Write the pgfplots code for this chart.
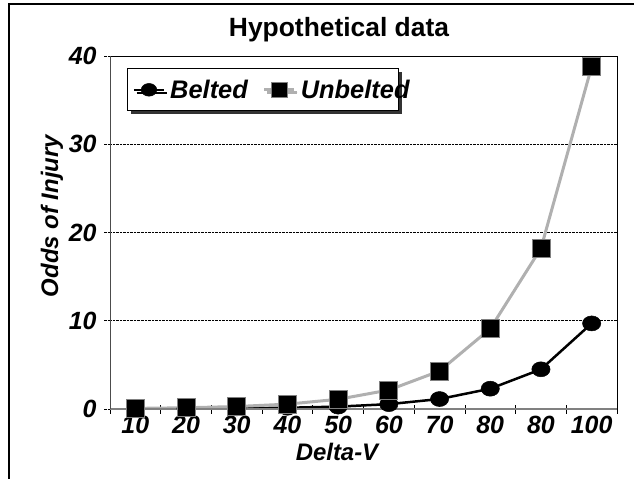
\documentclass[border=0pt]{standalone}
\usepackage{fontspec}
\setmainfont{Liberation Sans}
\usepackage{pgfplots}
\pgfplotsset{compat=1.18}
\usetikzlibrary{shadows}
\definecolor{ubgray}{RGB}{176,176,176}
\newcommand{\tickfont}{\fontsize{25}{27}\selectfont\bfseries\itshape}
\newcommand{\labfont}{\fontsize{24}{26}\selectfont\bfseries\itshape}
\newcommand{\legfont}{\fontsize{25.5}{27}\selectfont\bfseries\itshape}
\begin{document}
\begin{tikzpicture}
\useasboundingbox (0,0) rectangle (634bp,-479bp);
\draw[black, line width=1.3bp] (9bp,-482bp) -- (9bp,-4bp) -- (637bp,-4bp);
\begin{axis}[
  at={(110bp,-409bp)}, anchor=south west,
  scale only axis, width=507bp, height=353bp,
  xmin=-0.5, xmax=9.5, ymin=0, ymax=40,
  xtick={0,...,9}, xticklabels={10,20,30,40,50,60,70,80,80,100},
  minor xtick={-0.5,0.5,...,9.5},
  ytick={0,10,20,30,40},
  tick pos=left,
  ymajorgrids, grid style={densely dotted, black, line width=0.7bp},
  major x tick style={draw=none},
  minor x tick style={draw=black, line width=0.8bp},
  minor tick length=9bp,
  major tick length=6bp,
  xtick align=center, ytick align=outside,
  y tick style={densely dotted, black, line width=0.7bp},
  axis line style={black, line width=0.8bp},
  ticklabel style={font=\tickfont},
  /pgf/number format/assume math mode=true,
  xticklabel style={yshift=-1bp},
  yticklabel style={xshift=-4bp},
  legend style={at={(0.034,0.965)}, anchor=north west, draw=black, line width=1bp,
    fill=white, drop shadow={shadow xshift=3bp, shadow yshift=-3bp, fill=black!80, opacity=1},
    font=\legfont, inner xsep=5bp, inner ysep=9bp, row sep=0bp},
  legend columns=2,
  legend cell align=left,
  /tikz/every odd column/.append style={column sep=3bp},
  /tikz/every even column/.append style={column sep=13bp},
  legend image code/.code={\draw[mark repeat=2, mark phase=2, #1, /tikz/every mark/.append style={scale=0.85}] plot coordinates {(0bp,0bp) (15bp,0bp) (30bp,0bp)};},
]
\addplot[black, line width=2.5bp, mark=*, mark size=7.5bp, mark options={xscale=1.22, fill=black, draw=black, line width=0.5bp}]
  coordinates {(0,0.02) (1,0.04) (2,0.07) (3,0.14) (4,0.27) (5,0.55) (6,1.13) (7,2.3) (8,4.5) (9,9.7)};
\addlegendentry{Belted}
\addplot[ubgray, line width=3bp, mark=square*, mark size=9bp, mark options={fill=black, draw=gray, line width=0.8bp}]
  coordinates {(0,0.07) (1,0.14) (2,0.28) (3,0.55) (4,1.1) (5,2.15) (6,4.3) (7,9.1) (8,18.2) (9,38.8)};
\addlegendentry{Unbelted\hspace*{-18bp}}
\draw[gray, line width=1.6bp] (rel axis cs:0,0) -- (rel axis cs:1,0);
\draw[black!70, line width=1.3bp] (rel axis cs:0,0) -- (rel axis cs:0,1);
\end{axis}
\node[font=\fontsize{26.5}{28}\selectfont\bfseries] at (339bp,-30bp) {Hypothetical data};
\node[font=\labfont] at (337bp,-452bp) {Delta-V};
\node[font=\labfont, rotate=90] at (52bp,-216bp) {Odds of Injury};
\end{tikzpicture}
\end{document}
